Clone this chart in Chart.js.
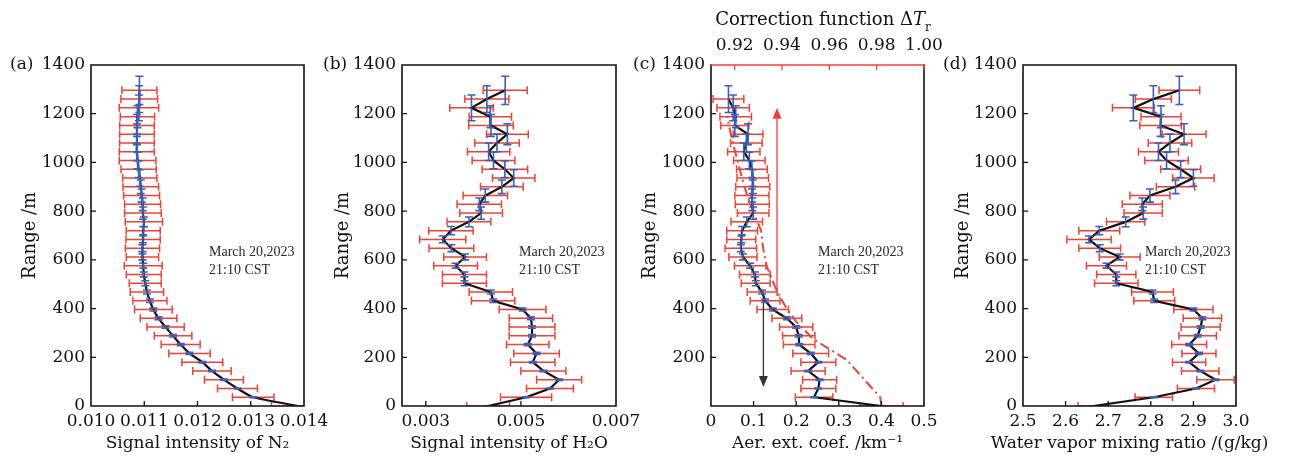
<!DOCTYPE html>
<html><head><meta charset="utf-8">
<script src="https://cdn.jsdelivr.net/npm/chart.js@4.4.0/dist/chart.umd.min.js"></script>
<style>
html,body{margin:0;padding:0;background:#fff;}
#wrap{position:relative;width:1289px;height:459px;overflow:hidden;background:#fff;}
canvas{position:absolute;top:0;}
</style></head><body><div id="wrap">
<canvas id="ca" width="330" height="459" style="left:0px"></canvas>
<canvas id="cb" width="330" height="459" style="left:310px"></canvas>
<canvas id="cc" width="330" height="459" style="left:620px"></canvas>
<canvas id="cd" width="359" height="459" style="left:930px"></canvas>
</div>
<script>
// ---------- data ----------
const RANGES = [0,36,72,108,144,180,216,252,288,324,360,396,432,468,504,540,576,612,648,684,720,756,792,828,864,900,936,972,1008,1044,1080,1116,1152,1188,1224,1260,1296];
const rangeErr = [1,2,2,3,3,3,4,4,5,5,6,6,7,8,10,10,10,12,14,14,17,20,25,26,27,28,34,34,34,36,36,43,45,45,53,55,58];
const yTickValues = [0,200,400,600,800,1000,1200,1400];

const n2Signal = [0.01389,0.013047,0.01275,0.012497,0.012272,0.012091,0.01185,0.011684,0.011541,0.0114,0.011269,0.011172,0.011106,0.01105,0.011019,0.010991,0.010981,0.010966,0.010966,0.010978,0.010981,0.010994,0.010975,0.010969,0.01095,0.010934,0.010916,0.010894,0.010875,0.010859,0.010863,0.010863,0.010863,0.010872,0.0109,0.010906,0.010909];
const n2Err = [0.0005,0.00039,0.000375,0.000366,0.00036,0.000384,0.000388,0.000366,0.000353,0.00035,0.000344,0.000353,0.000319,0.000313,0.0003,0.000328,0.000356,0.000303,0.000322,0.000322,0.000319,0.00035,0.000344,0.000338,0.000338,0.000334,0.000322,0.000331,0.000344,0.000328,0.000325,0.000325,0.000325,0.000322,0.000369,0.000344,0.000328];
const n2Ticks = [0.010,0.011,0.012,0.013,0.014];

const h2oSignal = [0.00431,0.005109,0.005611,0.005804,0.005474,0.005249,0.00533,0.005144,0.005235,0.005235,0.005211,0.005035,0.004417,0.004368,0.003813,0.003813,0.003627,0.003827,0.003539,0.003357,0.003529,0.003908,0.004164,0.004126,0.004252,0.0046,0.004849,0.004663,0.004424,0.004322,0.004498,0.004716,0.004371,0.004357,0.003961,0.004284,0.00467];
const h2oErr = [0.00045,0.000537,0.000492,0.000474,0.000474,0.000467,0.000478,0.000446,0.000481,0.000481,0.000456,0.000492,0.000456,0.000456,0.000463,0.000463,0.00046,0.000449,0.00047,0.000485,0.000467,0.00046,0.000449,0.000467,0.000467,0.000449,0.000446,0.000478,0.000449,0.000446,0.000467,0.000439,0.000467,0.000446,0.000456,0.000463,0.000463];
const h2oTicks = [0.003,0.005,0.007];

const aerRanges = RANGES.slice(0,36);
const aerExt = [0.40,0.242,0.252,0.255,0.228,0.252,0.234,0.207,0.206,0.2,0.178,0.145,0.127,0.12,0.105,0.103,0.092,0.075,0.07,0.071,0.073,0.084,0.099,0.097,0.096,0.098,0.098,0.096,0.09,0.077,0.083,0.087,0.056,0.058,0.052,0.041];
const aerErr = [0.051,0.044,0.041,0.04,0.04,0.041,0.042,0.037,0.038,0.039,0.035,0.037,0.035,0.035,0.034,0.036,0.037,0.033,0.037,0.034,0.036,0.037,0.037,0.04,0.04,0.04,0.037,0.036,0.037,0.038,0.037,0.035,0.033,0.037,0.038,0.036];
const aerTicks = [0,0.1,0.2,0.3,0.4,0.5];
const corrRange = [0,36,108,189,275,346,400,470,572,648,720,792,864,936,1008,1080,1152,1190];
const corrValue = [0.982,0.9815,0.9748,0.9674,0.9532,0.946,0.942,0.9379,0.9336,0.932,0.9312,0.928,0.9253,0.9231,0.9212,0.9192,0.9176,0.9168];
const corrTicks = [0.92,0.94,0.96,0.98,1.00];
const arrowUp = {x:0.155, from:470, to:1225};
const arrowDown = {x:0.123, from:440, to:78};

const wvmr = [2.665,2.807,2.906,2.952,2.916,2.89,2.913,2.89,2.91,2.917,2.921,2.9,2.808,2.804,2.719,2.719,2.696,2.727,2.68,2.655,2.679,2.741,2.782,2.78,2.798,2.858,2.9,2.87,2.837,2.818,2.845,2.878,2.823,2.824,2.759,2.806,2.867];
const wvmrErr = [0.036,0.044,0.0435,0.044,0.044,0.039,0.04,0.041,0.044,0.046,0.045,0.046,0.048,0.049,0.051,0.046,0.047,0.048,0.049,0.052,0.048,0.045,0.045,0.047,0.047,0.045,0.0486,0.047,0.051,0.047,0.051,0.0517,0.049,0.047,0.049,0.0423,0.0478];
const wvmrTicks = [2.5,2.6,2.7,2.8,2.9,3.0];

const noteLines = ['March 20,2023','21:10 CST'];

// ---------- style ----------
const RED = '#ef4136', BLUE = '#3b5fb9', BLACK = '#111111';
const SERIF = '"DejaVu Serif", serif';
const TIMES = '"Liberation Serif", "Times New Roman", serif';

function arrow(ctx, x, y0, y1, color){
  const dir = Math.sign(y1 - y0), hl = 11, hw = 4.5;
  ctx.strokeStyle = color; ctx.fillStyle = color; ctx.lineWidth = 1.3;
  ctx.beginPath(); ctx.moveTo(x, y0); ctx.lineTo(x, y1 - dir*hl); ctx.stroke();
  ctx.beginPath(); ctx.moveTo(x, y1); ctx.lineTo(x - hw, y1 - dir*hl); ctx.lineTo(x + hw, y1 - dir*hl); ctx.closePath(); ctx.fill();
}

function panelPlugin(p){
  return {
    id: 'panel' + p.key,
    beforeDatasetsDraw(chart){
      const {ctx, chartArea: a} = chart; const xs = chart.scales.x, ys = chart.scales.y;
      ctx.save();
      ctx.beginPath(); ctx.rect(a.left, a.top, a.right - a.left, a.bottom - a.top); ctx.clip();
      ctx.strokeStyle = RED; ctx.lineWidth = 1.5;
      p.vals.forEach((v, i) => {
        const y = ys.getPixelForValue(p.ranges[i]);
        const x1 = xs.getPixelForValue(v - p.xErr[i]), x2 = xs.getPixelForValue(v + p.xErr[i]);
        ctx.beginPath();
        ctx.moveTo(x1, y); ctx.lineTo(x2, y);
        ctx.moveTo(x1, y - 4); ctx.lineTo(x1, y + 4);
        ctx.moveTo(x2, y - 4); ctx.lineTo(x2, y + 4);
        ctx.stroke();
      });
      ctx.restore();
    },
    afterDatasetsDraw(chart){
      const {ctx, chartArea: a} = chart; const xs = chart.scales.x, ys = chart.scales.y;
      ctx.save();
      ctx.beginPath(); ctx.rect(a.left, a.top, a.right - a.left, a.bottom - a.top); ctx.clip();
      if (p.arrows) p.arrows.forEach(ar => arrow(ctx, xs.getPixelForValue(ar.x), ys.getPixelForValue(ar.from), ys.getPixelForValue(ar.to), ar.color));
      ctx.strokeStyle = BLUE; ctx.lineWidth = 1.6;
      p.vals.forEach((v, i) => {
        const x = xs.getPixelForValue(v);
        const y1 = ys.getPixelForValue(p.ranges[i] - p.yErr[i]), y2 = ys.getPixelForValue(p.ranges[i] + p.yErr[i]);
        ctx.beginPath();
        ctx.moveTo(x, y1); ctx.lineTo(x, y2);
        ctx.moveTo(x - 4, y1); ctx.lineTo(x + 4, y1);
        ctx.moveTo(x - 4, y2); ctx.lineTo(x + 4, y2);
        ctx.stroke();
      });
      ctx.restore();
      // frame and inward ticks
      ctx.save();
      ctx.lineWidth = 1.6; ctx.strokeStyle = BLACK; ctx.lineCap = 'square';
      ctx.beginPath();
      ctx.moveTo(a.left, a.top); ctx.lineTo(a.left, a.bottom); ctx.lineTo(a.right, a.bottom); ctx.lineTo(a.right, a.top);
      if (!p.topAxis) ctx.lineTo(a.left, a.top);
      ctx.stroke();
      ctx.lineWidth = 1.3; ctx.lineCap = 'butt';
      ctx.beginPath();
      yTickValues.forEach(v => { if (v > 0 && v < 1400) { const y = ys.getPixelForValue(v); ctx.moveTo(a.left, y); ctx.lineTo(a.left + 5, y); } });
      p.xTicks.forEach(v => { const x = xs.getPixelForValue(v); if (x > a.left + 1 && x < a.right - 1) { ctx.moveTo(x, a.bottom); ctx.lineTo(x, a.bottom - 5); } });
      ctx.stroke();
      if (p.topAxis) {
        const x2 = chart.scales.x2;
        ctx.strokeStyle = RED; ctx.lineWidth = 1.6;
        ctx.beginPath(); ctx.moveTo(a.left, a.top); ctx.lineTo(a.right, a.top); ctx.stroke();
        ctx.lineWidth = 1.3; ctx.beginPath();
        p.topAxis.forEach(v => { const x = x2.getPixelForValue(v); ctx.moveTo(x, a.top); ctx.lineTo(x, a.top + 5); });
        ctx.stroke();
      }
      ctx.restore();
    },
    afterDraw(chart){
      const ctx = chart.ctx, a = chart.chartArea;
      ctx.save();
      ctx.fillStyle = BLACK; ctx.textBaseline = 'middle'; ctx.textAlign = 'left';
      ctx.font = '17px ' + SERIF;
      ctx.fillText(p.label, p.labelX, 65);
      // x axis title
      ctx.textAlign = 'center'; ctx.font = '17px ' + SERIF;
      ctx.fillText(p.xTitle, (a.left + a.right) / 2, 444);
      ctx.textAlign = 'left';
      ctx.fillStyle = '#2a2a2a'; ctx.font = '14px ' + TIMES;
      ctx.fillText(noteLines[0], p.noteX, 252);
      ctx.fillText(noteLines[1], p.noteX, 270);
      if (p.topTitle) {
        ctx.fillStyle = BLACK;
        const f1 = '18px ' + SERIF, f2 = 'italic 18px ' + SERIF, f3 = '12px ' + SERIF;
        const t1 = 'Correction function \u0394', t2 = 'T', t3 = 'r';
        ctx.font = f1; const w1 = ctx.measureText(t1).width;
        ctx.font = f2; const w2 = ctx.measureText(t2).width;
        ctx.font = f3; const w3 = ctx.measureText(t3).width;
        let x = p.topTitleX - (w1 + w2 + w3) / 2;
        ctx.font = f1; ctx.fillText(t1, x, 20); x += w1;
        ctx.font = f2; ctx.fillText(t2, x, 20); x += w2;
        ctx.font = f3; ctx.fillText(t3, x, 28);
      }
      ctx.restore();
    }
  };
}

function makeChart(id, p){
  const tickFont = {family: SERIF, size: 17};
  const titleFont = {family: SERIF, size: 18};
  const scales = {
    x: {
      type: 'linear', position: 'bottom', min: p.xMin, max: p.xMax,
      afterBuildTicks: s => { s.ticks = p.xTicks.map(v => ({value: v})); },
      afterFit: s => { s.height = 53; s.paddingLeft = 0; s.paddingRight = 0; },
      grid: {display: false, drawTicks: false}, border: {display: false},
      ticks: {font: tickFont, color: BLACK, padding: 5, autoSkip: false, maxRotation: 0, minRotation: 0, callback: p.xFmt},
      title: {display: false}
    },
    y: {
      type: 'linear', position: 'left', min: 0, max: 1400,
      afterBuildTicks: s => { s.ticks = yTickValues.map(v => ({value: v})); },
      afterFit: s => { s.width = p.yWidth; s.paddingTop = 0; s.paddingBottom = 0; },
      grid: {display: false, drawTicks: false}, border: {display: false},
      ticks: {font: tickFont, color: BLACK, padding: 6, autoSkip: false, callback: v => (p.hideY0 && v === 0) ? '' : String(v)},
      title: {display: true, text: 'Range /m', font: titleFont, color: BLACK, padding: {top: p.yTitlePad, bottom: 0}}
    }
  };
  if (p.topAxis) {
    scales.x2 = {
      type: 'linear', position: 'top', min: 0.91, max: 1.00,
      afterBuildTicks: s => { s.ticks = p.topAxis.map(v => ({value: v})); },
      afterFit: s => { s.height = 65; s.paddingLeft = 0; s.paddingRight = 0; },
      grid: {display: false, drawTicks: false}, border: {display: false},
      ticks: {font: tickFont, color: BLACK, padding: 9, autoSkip: false, maxRotation: 0, minRotation: 0, callback: v => v.toFixed(2)}
    };
  }
  const datasets = [{
    data: p.vals.map((v, i) => ({x: v, y: p.ranges[i]})),
    xAxisID: 'x', yAxisID: 'y',
    borderColor: BLACK, borderWidth: 2.2, pointRadius: 0, tension: p.tension || 0, fill: false
  }];
  if (p.extra) datasets.push(p.extra);
  return new Chart(document.getElementById(id), {
    type: 'line',
    data: {datasets},
    options: {
      responsive: false, animation: false, events: [],
      layout: {padding: {left: 0, right: p.padRight, top: p.topAxis ? 0 : 65, bottom: 0}},
      plugins: {legend: {display: false}, tooltip: {enabled: false}},
      scales
    },
    plugins: [panelPlugin(p)]
  });
}

makeChart('ca', {
  key: 'a', label: '(a)', labelX: 10, noteX: 209,
  vals: n2Signal, xErr: n2Err, ranges: RANGES, yErr: rangeErr,
  xMin: 0.010, xMax: 0.014, xTicks: n2Ticks, xFmt: v => v.toFixed(3),
  xTitle: 'Signal intensity of N\u2082', yWidth: 91, padRight: 26, yTitlePad: 20, tension: 0.2
});
makeChart('cb', {
  key: 'b', label: '(b)', labelX: 13, noteX: 209,
  vals: h2oSignal, xErr: h2oErr, ranges: RANGES, yErr: rangeErr,
  xMin: 0.0025, xMax: 0.007, xTicks: h2oTicks, xFmt: v => v.toFixed(3),
  xTitle: 'Signal intensity of H\u2082O', yWidth: 92, padRight: 24, yTitlePad: 23
});
makeChart('cc', {
  key: 'c', label: '(c)', labelX: 13, noteX: 198,
  vals: aerExt, xErr: aerErr, ranges: aerRanges, yErr: rangeErr.slice(0, 36),
  xMin: 0, xMax: 0.5, xTicks: aerTicks, xFmt: v => v === 0 ? '0' : v.toFixed(1),
  xTitle: 'Aer. ext. coef. /km\u207B\u00B9', yWidth: 91, padRight: 26, yTitlePad: 20, hideY0: true,
  topAxis: corrTicks, topTitle: true, topTitleX: 203,
  arrows: [{x: arrowUp.x, from: arrowUp.from, to: arrowUp.to, color: RED}, {x: arrowDown.x, from: arrowDown.from, to: arrowDown.to, color: '#333333'}],
  extra: {
    data: corrValue.map((v, i) => ({x: v, y: corrRange[i]})),
    xAxisID: 'x2', yAxisID: 'y',
    borderColor: RED, borderWidth: 2, borderDash: [10, 4, 2, 4], pointRadius: 0, tension: 0, fill: false
  }
});
makeChart('cd', {
  key: 'd', label: '(d)', labelX: 13, noteX: 215,
  vals: wvmr, xErr: wvmrErr, ranges: RANGES, yErr: rangeErr,
  xMin: 2.5, xMax: 3.0, xTicks: wvmrTicks, xFmt: v => v.toFixed(1),
  xTitle: 'Water vapor mixing ratio /(g/kg)', yWidth: 93, padRight: 53, yTitlePad: 23
});
</script>
</body></html>
